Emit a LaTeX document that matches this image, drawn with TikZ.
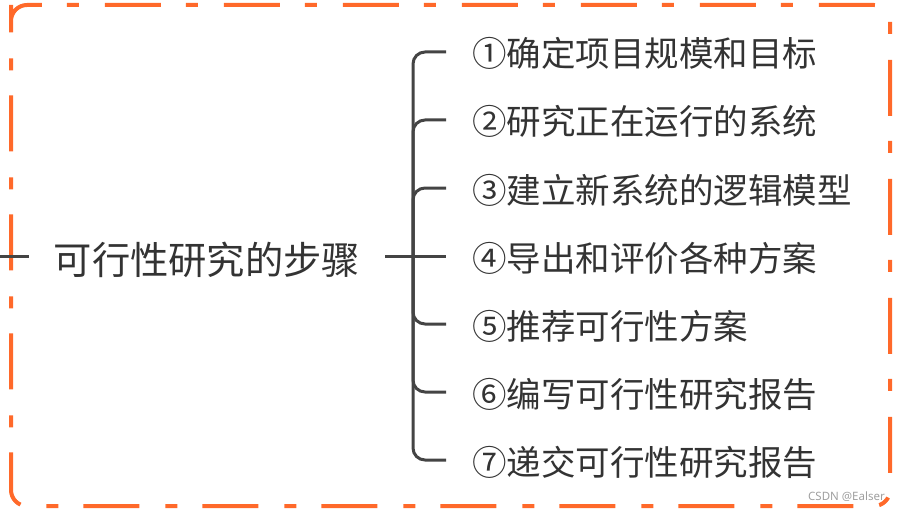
\documentclass[tikz,border=0pt]{standalone}
\usepackage{fontspec}
\setmainfont{Noto Sans CJK SC}
\newfontfamily\wmfont{Noto Sans}
\definecolor{frameorange}{RGB}{255,105,42}
\definecolor{linegray}{RGB}{68,68,68}
\definecolor{textgray}{RGB}{51,51,51}
\begin{document}
\begin{tikzpicture}[x=1pt,y=-1pt,
  frame/.style={draw=frameorange,line width=4pt,rounded corners=16pt,
    dash pattern=on 56pt off 25pt on 12pt off 26pt},
  conn/.style={draw=linegray,line width=3pt},
  titlebox/.style={font=\fontsize{38.3}{40}\selectfont,text=textgray,inner xsep=25pt,inner ysep=0pt,
    text height=38pt,text depth=1.5pt},
  itembox/.style={font=\fontsize{34.5}{36}\selectfont,text=textgray,inner xsep=26pt,inner ysep=0pt,
    text height=32pt,text depth=2pt,anchor=west}]
\useasboundingbox (0,0) rectangle (898,511);
% frame
\draw[frame] (11,21) -- (11,5) -- (890,5) -- (890,506) -- (11,506) -- cycle;
% nodes
\coordinate (L) at (0,256);
\node[titlebox] (t) at (207,256) {可行性研究的步骤};
\coordinate (J) at (413,256);
\node[itembox] (i1) at (446,52)  {①确定项目规模和目标};
\node[itembox] (i2) at (446,120) {②研究正在运行的系统};
\node[itembox] (i3) at (446,188) {③建立新系统的逻辑模型};
\node[itembox] (i4) at (446,256) {④导出和评价各种方案};
\node[itembox] (i5) at (446,324) {⑤推荐可行性方案};
\node[itembox] (i6) at (446,392) {⑥编写可行性研究报告};
\node[itembox] (i7) at (446,460) {⑦递交可行性研究报告};
% connectors
\draw[conn] (L) -- (L -| t.west);
\draw[conn] (t.east) -- (i4.west);
\foreach \k in {1,2,3,5,6,7}{
  \draw[conn,rounded corners=12pt] (J) |- (i\k.west);
}
% watermark
\node[font=\wmfont\fontsize{11.5}{12}\selectfont,text=gray!75,anchor=east,inner sep=0pt] (wm) at (885,497) {CSDN @Ealser};
\end{tikzpicture}
\end{document}
